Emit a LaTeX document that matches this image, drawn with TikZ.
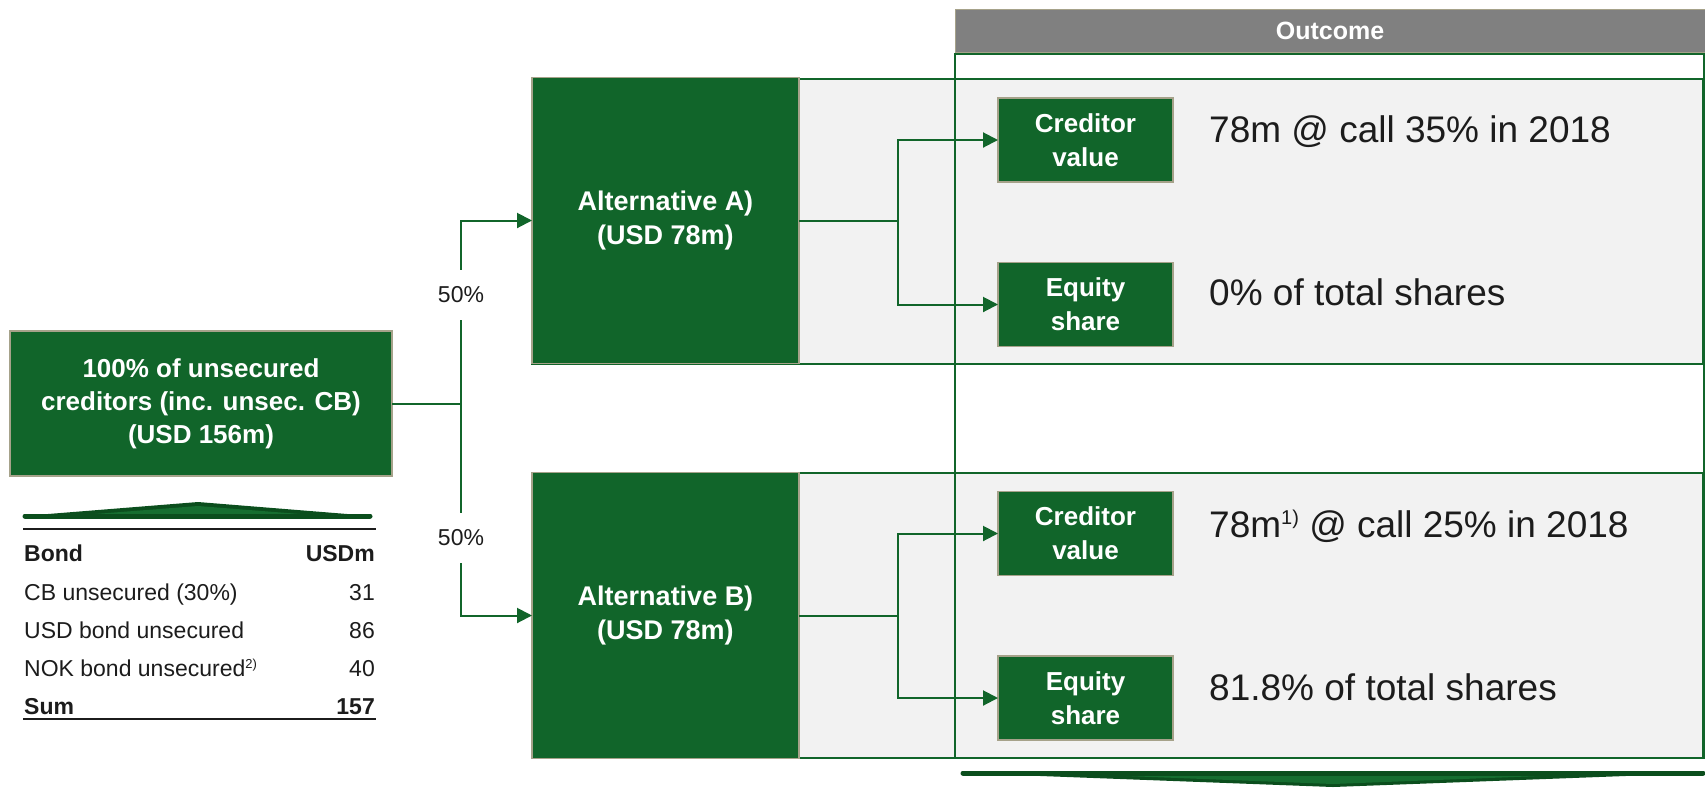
\documentclass[tikz,border=0pt]{standalone}
\usepackage{fontspec}
\setmainfont{Liberation Sans}
\usetikzlibrary{arrows.meta}

\definecolor{boxgreen}{RGB}{17,101,42}
\definecolor{darkgreen}{RGB}{11,78,29}
\definecolor{midgreen}{RGB}{22,110,48}
\definecolor{panelgray}{RGB}{242,242,242}
\definecolor{tanline}{RGB}{166,162,138}
\definecolor{headgray}{RGB}{128,128,128}
\definecolor{ink}{RGB}{28,28,28}

\begin{document}
\begin{tikzpicture}[x=1pt,y=-1pt,
  gbox/.style={draw=tanline, line width=1.2pt, fill=boxgreen, text=white,
    inner sep=0pt, outer sep=0pt, align=center},
  panel/.style={draw=boxgreen, line width=1.6pt, fill=panelgray},
  conn/.style={draw=boxgreen, line width=2pt},
  arr/.style={conn, -{Triangle[length=15pt,width=15pt]}},
  pct/.style={inner sep=0pt, minimum height=50pt, text=ink,
    font=\fontsize{23}{27}\selectfont},
  tabtxt/.style={inner sep=0pt, text=ink, font=\fontsize{23}{27}\selectfont},
  tabbold/.style={tabtxt, font=\fontsize{23}{27}\selectfont\bfseries},
  outtxt/.style={inner sep=0pt, anchor=base west, text=ink,
    font=\fontsize{37}{44}\selectfont},
  smallbox/.style={gbox, minimum width=175pt, minimum height=84pt,
    font=\fontsize{26}{34}\selectfont\bfseries},
  altbox/.style={gbox, minimum width=267pt, minimum height=286pt,
    font=\fontsize{27}{34}\selectfont\bfseries}
]
\useasboundingbox (0,0) rectangle (1705,788);

% shaded panels behind the two alternatives
\draw[panel] (532,79) rectangle (1703,364);
\draw[panel] (532,473) rectangle (1703,758);

% outcome column: frame and header
\draw[boxgreen, line width=2pt] (955,54) rectangle (1704,758);
\node[draw=tanline, line width=1pt, fill=headgray, text=white, inner sep=0pt,
  minimum width=750pt, minimum height=43pt,
  font=\fontsize{25}{30}\selectfont\bfseries] (outhead) at (1330,30.5) {Outcome};

% source box
\node[gbox, minimum width=382pt, minimum height=145pt,
  font=\fontsize{26}{33}\selectfont\bfseries] (src) at (201,403.5)
  {100\% of unsecured\\creditors (inc. unsec. CB)\\(USD 156m)};

% alternative boxes
\node[altbox] (altA) at (665.5,220.5) {Alternative A)\\(USD 78m)};
\node[altbox] (altB) at (665.5,615.5) {Alternative B)\\(USD 78m)};

% outcome boxes
\node[smallbox] (credA) at (1085.5,140) {Creditor\\value};
\node[smallbox] (eqA) at (1085.5,304.5) {Equity\\share};
\node[smallbox] (credB) at (1085.5,533.5) {Creditor\\value};
\node[smallbox] (eqB) at (1085.5,698) {Equity\\share};

% outcome statements
\node[outtxt] (tA1) at (1209,142) {78m @ call 35\% in 2018};
\node[outtxt] (tA2) at (1209,305) {0\% of total shares};
\node[outtxt] (tB1) at (1209,537) {78m\raisebox{13pt}{\fontsize{20}{20}\selectfont 1)} @ call 25\% in 2018};
\node[outtxt] (tB2) at (1209,700) {81.8\% of total shares};

% split into the two alternatives
\node[pct] (pA) at (461,295) {50\%};
\node[pct] (pB) at (461,538) {50\%};
\coordinate (j) at (pA |- src.east);
\draw[conn] (src.east) -- (j);
\draw[conn] (j) -- (pA.south);
\draw[conn] (j) -- (pB.north);
\draw[arr] (pA.north) |- (altA.west);
\draw[arr] (pB.south) |- (altB.west);

% alternative A branches
\coordinate (ja) at (898,220.5);
\draw[conn] (altA.east) -- (ja);
\draw[arr] (ja) |- (credA.west);
\draw[arr] (ja) |- (eqA.west);

% alternative B branches
\coordinate (jb) at (898,615.5);
\draw[conn] (altB.east) -- (jb);
\draw[arr] (jb) |- (credB.west);
\draw[arr] (jb) |- (eqB.west);

% upward pointer above the bond table
\fill[darkgreen] (23,516) -- (198,502) -- (372,516) -- cycle;
\fill[midgreen] (95,514) -- (198,506) -- (300,514) -- cycle;
\draw[darkgreen, line width=5pt, line cap=round] (25,516) -- (370,516);

% downward pointer under the outcome column
\fill[darkgreen] (961,773) -- (1333,787) -- (1705,773) -- cycle;
\fill[midgreen] (1100,775) -- (1333,784) -- (1566,775) -- cycle;
\draw[darkgreen, line width=5pt, line cap=round] (963,773) -- (1703,773);

% bond table
\draw[ink, line width=2.3pt] (23,529) -- (376,529);
\node[tabbold, anchor=base west] (hBond) at (24,561) {Bond};
\node[tabbold, anchor=base east] (hUsd) at (375,561) {USDm};
\node[tabtxt, anchor=base west] (r1) at (24,600) {CB unsecured (30\%)};
\node[tabtxt, anchor=base east] (v1) at (375,600) {31};
\node[tabtxt, anchor=base west] (r2) at (24,638) {USD bond unsecured};
\node[tabtxt, anchor=base east] (v2) at (375,638) {86};
\node[tabtxt, anchor=base west] (r3) at (24,676) {NOK bond unsecured\raisebox{8pt}{\fontsize{13}{13}\selectfont 2)}};
\node[tabtxt, anchor=base east] (v3) at (375,676) {40};
\node[tabbold, anchor=base west] (rs) at (24,714) {Sum};
\node[tabbold, anchor=base east] (vs) at (375,714) {157};
\draw[ink, line width=2.3pt] (23,719) -- (376,719);
\end{tikzpicture}
\end{document}
